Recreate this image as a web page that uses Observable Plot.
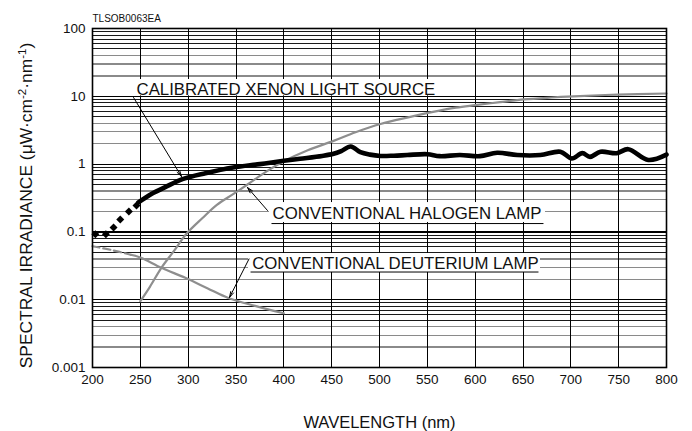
<!DOCTYPE html>
<html>
<head>
<meta charset="utf-8">
<script src="https://cdn.jsdelivr.net/npm/d3@7"></script>
<script src="https://cdn.jsdelivr.net/npm/@observablehq/plot@0.6"></script>
<style>
  html, body { margin: 0; padding: 0; background: #fff; }
  svg g[aria-label="rule"] line { shape-rendering: crispEdges; }
</style>
</head>
<body>
<div id="chart"></div>
<script>
// ---------- data ----------
const chartCode = "TLSOB0063EA";
const xTitle = "WAVELENGTH (nm)";
const yTitle = "SPECTRAL IRRADIANCE (μW·cm-2·nm-1)";

const wavelengthTicks = [200, 250, 300, 350, 400, 450, 500, 550, 600, 650, 700, 750, 800];
const irradianceTicks = [0.001, 0.01, 0.1, 1, 10, 100];
const decades = [0.001, 0.01, 0.1, 1, 10];
const grayFactors = [2, 3, 4];
const darkFactors = [5, 6, 7, 8, 9];

// Calibrated xenon light source (dotted part, 200-250 nm)
const xenonDotNm  = [203, 214, 222, 229, 238, 246];
const xenonDotVal = [0.092, 0.092, 0.116, 0.152, 0.2, 0.245];
// Calibrated xenon light source (solid part)
const xenonNm  = [248, 262, 276, 294, 318, 347, 375, 400, 417, 440, 452, 460, 470, 480, 490, 501, 515, 529, 550, 563, 584, 605, 623, 644, 668, 689, 701, 712, 720, 731, 748, 760, 781, 800];
const xenonVal = [0.272, 0.365, 0.457, 0.6, 0.734, 0.89, 1.0, 1.12, 1.2, 1.32, 1.42, 1.56, 1.82, 1.5, 1.38, 1.32, 1.33, 1.36, 1.4, 1.31, 1.36, 1.31, 1.47, 1.36, 1.36, 1.52, 1.21, 1.45, 1.28, 1.52, 1.45, 1.66, 1.15, 1.38];

// Conventional halogen lamp
const halogenNm  = [250, 260, 272, 285, 298, 315, 330, 347, 362, 382, 400, 425, 452, 475, 501, 530, 556, 580, 600, 626, 651, 680, 703, 749, 800];
const halogenVal = [0.0095, 0.0155, 0.0295, 0.052, 0.093, 0.16, 0.25, 0.36, 0.5, 0.78, 1.1, 1.6, 2.2, 2.95, 3.9, 4.9, 5.9, 6.8, 7.4, 8.2, 9.0, 9.6, 10.0, 10.6, 11.0];

// Conventional deuterium lamp (dashed part, then solid part)
const deutDashNm  = [200, 220, 240];
const deutDashVal = [0.0615, 0.054, 0.046];
const deutNm  = [240, 250, 272, 297, 320, 342, 370, 400];
const deutVal = [0.046, 0.042, 0.0296, 0.021, 0.0148, 0.0106, 0.0081, 0.0063];

// Annotation labels (text anchor, background box, underline, leader arrow), in data units
const labelNames = ["CALIBRATED XENON LIGHT SOURCE", "CONVENTIONAL HALOGEN LAMP", "CONVENTIONAL DEUTERIUM LAMP"];
const labelNm  = [246, 388.2, 366.9];
const labelVal = [12.6, 0.184, 0.0342];
const boxNm1 = [242.9, 385.0, 363.1];
const boxNm2 = [564.8, 673.5, 668.3];
const boxVal1 = [10.15, 0.1377, 0.0252];
const boxVal2 = [17.7, 0.271, 0.048];
const underNm1 = [null, 387.1, 365.2];
const underNm2 = [null, 671.4, 666.2];
const underVal = [null, 0.1328, 0.0256];
const arrowNm1 = [242.9, 382.9, 363.6];
const arrowVal1 = [9.6, 0.207, 0.0399];
const arrowNm2 = [293, 362.0, 343.2];
const arrowVal2 = [0.656, 0.452, 0.0108];

// ---------- build tables ----------
const zip = (xs, ys) => xs.map((x, i) => ({x, y: ys[i]}));
const xenonDots = zip(xenonDotNm, xenonDotVal);
const xenon = zip(xenonNm, xenonVal);
const halogen = zip(halogenNm, halogenVal);
const deutDash = zip(deutDashNm, deutDashVal);
const deut = zip(deutNm, deutVal);
const grayMinor = decades.flatMap(d => grayFactors.map(f => +(d * f).toPrecision(3)));
const darkMinor = decades.flatMap(d => darkFactors.map(f => +(d * f).toPrecision(3)));
const labels = labelNames.map((t, i) => ({
  t, x: labelNm[i], y: labelVal[i],
  bx1: boxNm1[i], bx2: boxNm2[i], by1: boxVal1[i], by2: boxVal2[i],
  ux1: underNm1[i], ux2: underNm2[i], uy: underVal[i],
  ax1: arrowNm1[i], ay1: arrowVal1[i], ax2: arrowNm2[i], ay2: arrowVal2[i]
}));
const underlines = labels.filter(d => d.ux1 != null);
const innerX = wavelengthTicks.slice(1, -1);

const FONT = "'Liberation Sans', Arial, Helvetica, sans-serif";
const GRAY = "#8e8e8e";

const chart = Plot.plot({
  width: 692,
  height: 431,
  marginLeft: 92,
  marginRight: 26,
  marginTop: 28,
  marginBottom: 64,
  style: {fontFamily: FONT, fontSize: "13.5px", color: "#111", background: "#fff", overflow: "visible"},
  x: {domain: [200, 800], ticks: wavelengthTicks, tickSize: 0, tickPadding: 7, label: null, tickFormat: d => String(d)},
  y: {type: "log", domain: [0.001, 100], ticks: irradianceTicks, tickSize: 0, tickPadding: 7, label: null, tickFormat: d => String(d)},
  marks: [
    // grid
    Plot.ruleY(grayMinor, {stroke: "#8a8a8a", strokeWidth: 1.3}),
    Plot.ruleY(darkMinor, {stroke: "#1a1a1a", strokeWidth: 1}),
    Plot.ruleY(irradianceTicks, {stroke: "#000", strokeWidth: 1.2}),
    Plot.ruleX(innerX, {stroke: "#000", strokeWidth: 1}),
    // curves
    Plot.line(deutDash, {x: "x", y: "y", stroke: GRAY, strokeWidth: 2.2, strokeDasharray: "7,4", curve: "catmull-rom"}),
    Plot.line(deut, {x: "x", y: "y", stroke: GRAY, strokeWidth: 2.2, curve: "catmull-rom"}),
    Plot.line(halogen, {x: "x", y: "y", stroke: GRAY, strokeWidth: 2.2, curve: "catmull-rom"}),
    Plot.line(xenon, {x: "x", y: "y", stroke: "#000", strokeWidth: 4.6, curve: "catmull-rom", strokeLinejoin: "round"}),
    Plot.dot(xenonDots, {x: "x", y: "y", symbol: "diamond2", r: 3.6, fill: "#000", stroke: null}),
    // annotation boxes, underlines, leaders, labels
    Plot.rect(labels, {x1: "bx1", x2: "bx2", y1: "by1", y2: "by2", fill: "#fff"}),
    Plot.link(underlines, {x1: "ux1", x2: "ux2", y1: "uy", y2: "uy", stroke: "#000", strokeWidth: 1}),
    Plot.arrow(labels, {x1: "ax1", y1: "ay1", x2: "ax2", y2: "ay2", stroke: "#000", strokeWidth: 1, headLength: 9, headAngle: 30}),
    Plot.text(labels, {x: "x", y: "y", text: "t", textAnchor: "start", lineAnchor: "middle", fontSize: 16.8, fill: "#111"}),
    // frame
    Plot.frame({stroke: "#000", strokeWidth: 1.6}),
    // titles
    Plot.text([chartCode], {frameAnchor: "top-left", dy: -10, textAnchor: "start", lineAnchor: "middle", fontSize: 10, fill: "#111"}),
    Plot.text([xTitle], {frameAnchor: "bottom", dy: 55, textAnchor: "middle", lineAnchor: "middle", fontSize: 16.5, fill: "#111"}),
    Plot.text([yTitle], {frameAnchor: "left", dx: -66, dy: 7.5, rotate: -90, textAnchor: "middle", lineAnchor: "middle", fontSize: 17.4, fill: "#111"})
  ]
});

// superscripts in the y title
chart.querySelectorAll("text").forEach(el => {
  if (el.textContent === yTitle) {
    el.textContent = "";
    const parts = [["SPECTRAL IRRADIANCE (μW·cm", 0], ["-2", 1], ["·nm", 0], ["-1", 1], [")", 0]];
    let raised = false;
    for (const [s, sup] of parts) {
      const ts = document.createElementNS("http://www.w3.org/2000/svg", "tspan");
      ts.textContent = s;
      if (sup) { ts.setAttribute("font-size", "11.5"); ts.setAttribute("dy", "-6"); raised = true; }
      else if (raised) { ts.setAttribute("dy", "6"); raised = false; }
      el.appendChild(ts);
    }
  }
});

document.getElementById("chart").appendChild(chart);
</script>
</body>
</html>
